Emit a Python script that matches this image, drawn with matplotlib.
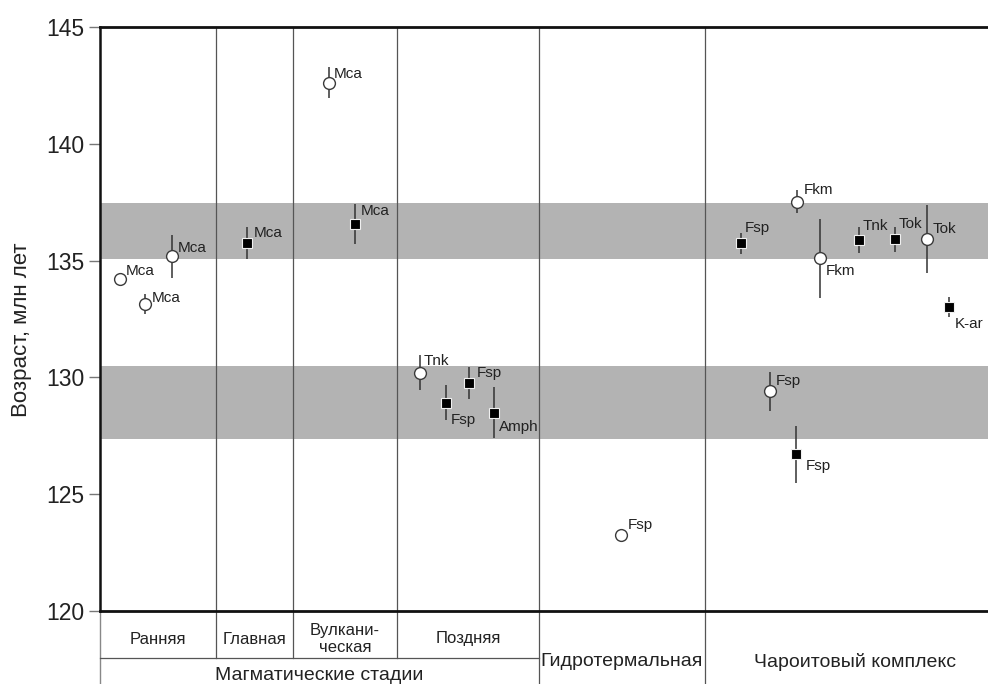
import matplotlib
matplotlib.use("Agg")
import matplotlib.pyplot as plt
from matplotlib.transforms import blended_transform_factory

plt.rcParams['font.family'] = ['Liberation Sans', 'DejaVu Sans']

# Sample positions along the stage axis, ages (Ma) and 1-sigma errors
sample_x = [20, 45, 72, 147, 229, 255, 320, 346, 369, 394, 521,
            641, 670, 697, 696, 720, 759, 795, 827, 849]
age = [134.23, 133.15, 135.18, 135.75, 142.62, 136.57, 130.2, 128.92, 129.76, 128.49, 123.25,
       135.75, 129.4, 137.52, 126.7, 135.1, 135.88, 135.91, 135.91, 133.03]
age_err = [0.0, 0.42, 0.92, 0.68, 0.67, 0.85, 0.76, 0.75, 0.68, 1.1, 0.0,
           0.45, 0.85, 0.5, 1.2, 1.7, 0.55, 0.53, 1.45, 0.43]
mineral = ['Mca', 'Mca', 'Mca', 'Mca', 'Mca', 'Mca', 'Tnk', 'Fsp', 'Fsp', 'Amph', 'Fsp',
           'Fsp', 'Fsp', 'Fkm', 'Fsp', 'Fkm', 'Tnk', 'Tok', 'Tok', 'K-ar']
method = ['open', 'open', 'open', 'filled', 'open', 'filled', 'open', 'filled', 'filled', 'filled', 'open',
          'filled', 'open', 'open', 'filled', 'open', 'filled', 'filled', 'open', 'filled']
# label offsets in pixels (dx, dy)
label_dx = [6, 7, 6, 7, 5, 6, 4, 5, 8, 5, 7, 4, 6, 7, 10, 6, 4, 4, 6, 6]
label_dy = [8, 6, 8, 10, 9, 13, 12, -17, 10, -14, 10, 15, 10, 12, -12, -13, 14, 15, 10, -17]

# Age bands
bands = [(135.05, 137.48), (127.35, 130.47)]

# Stage boundaries and stage names
stage_edges = [0, 116, 193, 297, 439, 605, 900]
stage_names = ['Ранняя', 'Главная', 'Вулкани-\nческая', 'Поздняя']
magmatic_name = 'Магматические стадии'
hydro_name = 'Гидротермальная'
charoite_name = 'Чароитовый комплекс'

yticks = [120, 125, 130, 135, 140, 145]

fig = plt.figure(figsize=(9.88, 6.84), dpi=100)
W, H = 988, 684
left_px, right_px, top_px, bottom_px = 100, 1000, 27, 611
ax = fig.add_axes([left_px / W, (H - bottom_px) / H, (right_px - left_px) / W, (bottom_px - top_px) / H])
ax.set_xlim(stage_edges[0], stage_edges[-1])
ax.set_ylim(120, 145)

for lo, hi in bands:
    ax.axhspan(lo, hi, color='#b3b3b3', lw=0, zorder=0)

for xb in stage_edges[1:-1]:
    ax.axvline(xb, color='#555555', lw=0.9, zorder=1)

for x, y, e, kind in zip(sample_x, age, age_err, method):
    if e > 0:
        ax.errorbar([x], [y], yerr=[e], fmt='none', ecolor='#333333', elinewidth=1.1, capsize=0, zorder=2)
    if kind == 'open':
        ax.plot([x], [y], marker='o', ms=8.5, mfc='white', mec='#3a3a3a', mew=1.0, ls='none', zorder=3)
    else:
        ax.plot([x], [y], marker='s', ms=7.2, mfc='black', mec='#f0f0f0', mew=0.8, ls='none', zorder=3)

for x, y, name, dx, dy in zip(sample_x, age, mineral, label_dx, label_dy):
    ax.annotate(name, (x, y), xytext=(dx, dy), textcoords='offset pixels',
                ha='left', va='center', fontsize=11, color='#222222', zorder=4,
                annotation_clip=False)

ax.spines['right'].set_visible(False)
ax.spines['top'].set_linewidth(2.0)
ax.spines['bottom'].set_linewidth(2.0)
ax.spines['left'].set_linewidth(1.8)
for side in ['top', 'bottom', 'left']:
    ax.spines[side].set_color('#111111')

ax.set_xticks([])
ax.set_yticks(yticks)
ax.set_yticklabels([str(t) for t in yticks], fontsize=16.5, color='#222222')
ax.tick_params(axis='y', length=8, width=1.0, color='#777777', pad=3)

fig.text(22 / W, (H - 330) / H, 'Возраст, млн лет', rotation=90, ha='center', va='center',
         fontsize=16, color='#222222')

# Stage table under the axis
tr = blended_transform_factory(ax.transData, ax.transAxes)
ax_h = bottom_px - top_px


def below(py):
    return -(py - bottom_px) / ax_h


row1 = below(658)
row2 = below(684)
tcol = '#555555'
ax.plot([0, 0], [0, row2], transform=tr, color='#888888', lw=1.0, clip_on=False)
for xb in stage_edges[1:4]:
    ax.plot([xb, xb], [0, row1], transform=tr, color=tcol, lw=0.9, clip_on=False)
for xb in stage_edges[4:6]:
    ax.plot([xb, xb], [0, row2], transform=tr, color=tcol, lw=0.9, clip_on=False)
ax.plot([0, stage_edges[4]], [row1, row1], transform=tr, color=tcol, lw=0.9, clip_on=False)

for i, name in enumerate(stage_names):
    xc = (stage_edges[i] + stage_edges[i + 1]) / 2
    ax.text(xc, below(639), name, transform=tr, ha='center', va='center', fontsize=12,
            color='#222222', linespacing=1.1, clip_on=False)
ax.text(stage_edges[4] / 2, below(675), magmatic_name, transform=tr, ha='center', va='center',
        fontsize=14, color='#222222', clip_on=False)
ax.text((stage_edges[4] + stage_edges[5]) / 2, below(662), hydro_name, transform=tr,
        ha='center', va='center', fontsize=14, color='#222222', clip_on=False)
ax.text((stage_edges[5] + stage_edges[6]) / 2 + 2, below(662), charoite_name, transform=tr,
        ha='center', va='center', fontsize=14, color='#222222', clip_on=False)

fig.savefig('out.png', dpi=100)
